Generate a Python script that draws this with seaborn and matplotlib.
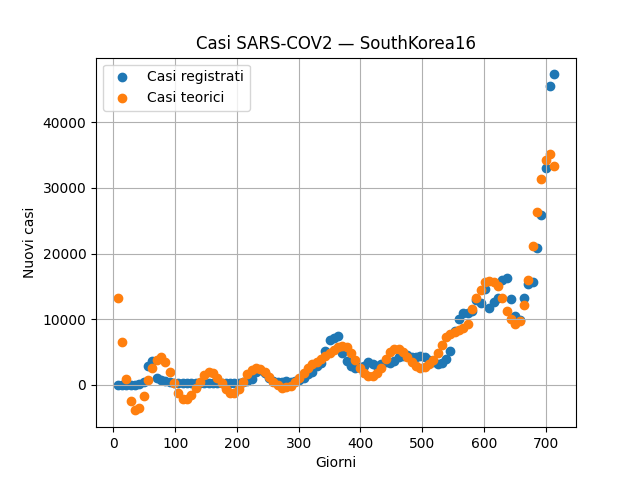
import numpy as np
import pandas as pd
import matplotlib
matplotlib.use('Agg')
import matplotlib.pyplot as plt
import seaborn as sns

# Giorni di osservazione (ogni settimana)
giorni = list(range(7, 715, 7))

# Casi registrati
casi_registrati = [
    0, 0, 0, 0, 0, 100, 500, 2900, 3600, 1000,
    700, 600, 500, 300, 200, 200, 200, 200, 200, 200,
    200, 200, 200, 200, 200, 300, 300, 200, 200, 400,
    600, 900, 2000, 2300, 1800, 1000, 600, 400, 500, 600,
    500, 600, 800, 1000, 1600, 2000, 2800, 3300, 5200, 6800,
    7200, 7500, 4800, 3600, 2800, 2600, 2700, 2900, 3400, 3100,
    2900, 3200, 3400, 3300, 3700, 4200, 4400, 4500, 4300, 4200,
    4400, 4200, 3800, 3500, 3200, 3300, 4000, 5200, 8200, 10000,
    10900, 11000, 11300, 12900, 12400, 14600, 11700, 12600, 13300, 15900,
    16300, 13000, 10500, 9800, 13300, 15300, 15700, 20800, 25800, 33100,
    45600, 47300,
]

# Casi teorici (modello)
casi_teorici = [
    13300, 6500, 900, -2500, -3900, -3500, -1700, 700, 2600, 3800,
    4200, 3400, 2000, 300, -1300, -2100, -2100, -1500, -500, 500,
    1500, 2000, 1800, 1000, 200, -600, -1200, -1300, -600, 500,
    1600, 2300, 2500, 2400, 1900, 1200, 500, -100, -500, -400,
    -200, 500, 1100, 1800, 2500, 3100, 3500, 3900, 4400, 4900,
    5300, 5700, 5900, 5700, 4900, 3800, 2600, 1800, 1400, 1300,
    1800, 2600, 3900, 5000, 5500, 5400, 5000, 4200, 3400, 2900,
    2600, 2700, 3100, 3800, 4800, 6000, 7300, 7700, 8000, 8300,
    8700, 9200, 11600, 13200, 14400, 15600, 15800, 15600, 15000, 13200,
    11200, 10000, 9200, 9700, 12200, 16000, 21100, 26400, 31300, 34300,
    35100, 33300,
]

df = pd.DataFrame({
    'Giorni': giorni,
    'registrati': casi_registrati,
    'teorici': casi_teorici,
})

fig, ax = plt.subplots(figsize=(6.4, 4.8), dpi=100)
fig.subplots_adjust(left=0.15, right=0.9, top=0.88, bottom=0.11)

sns.scatterplot(data=df, x='Giorni', y='registrati', ax=ax, color='C0',
                edgecolor='C0', s=36, linewidth=1, label='Casi registrati')
sns.scatterplot(data=df, x='Giorni', y='teorici', ax=ax, color='C1',
                edgecolor='C1', s=36, linewidth=1, label='Casi teorici')

ax.set_title('Casi SARS-COV2 — SouthKorea16')
ax.set_xlabel('Giorni')
ax.set_ylabel('Nuovi casi')
ax.grid(True)
ax.legend(loc='upper left')

plt.savefig('out.png', dpi=100)
plt.close()
